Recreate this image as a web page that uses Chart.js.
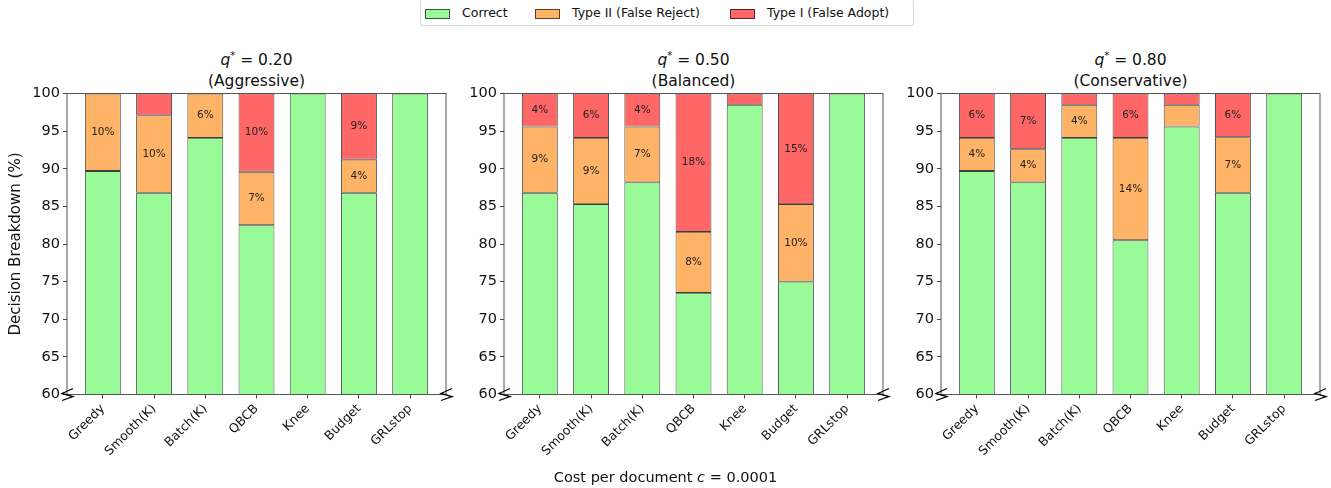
<!DOCTYPE html>
<html lang="en">
<head>
<meta charset="UTF-8">
<title>Decision Breakdown</title>
<script src="https://cdn.jsdelivr.net/npm/chart.js"></script>
<style>
body {
  margin:0;
  width:1331px;
  height:488px;
  background:#fff;
  font-family:"DejaVu Sans", sans-serif;
  color:#111;
  position:relative;
  overflow:hidden;
}
.panel { position:absolute; top:80px; width:460px; height:408px; }
.title { position:absolute; width:379px; text-align:center; font-size:15.5px; line-height:21px; top:50px; }
.title sup { font-size:10px; vertical-align:6px; line-height:0; }
#legend {
  position:absolute; left:420px; top:0px; width:492px; height:25px;
  border:1px solid #d8d8d8; border-radius:3px; border-top:none;
  font-size:12.5px;
}
.sw { position:absolute; top:9px; width:23px; height:8px; border:1px solid rgba(0,0,0,0.65); }
.lt { position:absolute; top:5px; white-space:nowrap; }
#xlabel { position:absolute; left:0; width:1331px; top:469px; text-align:center; font-size:14.5px; }
</style>
</head>
<body>

<div id="legend">
  <div class="sw" style="left:4px;background:#98fb98"></div><div class="lt" style="left:41px">Correct</div>
  <div class="sw" style="left:114px;background:#ffb366"></div><div class="lt" style="left:151px">Type II (False Reject)</div>
  <div class="sw" style="left:309px;background:#ff6666"></div><div class="lt" style="left:346px">Type I (False Adopt)</div>
</div>

<div id="titles"></div>

<div class="panel" style="left:0px"><canvas id="c0"></canvas></div>
<div class="panel" style="left:437px"><canvas id="c1"></canvas></div>
<div class="panel" style="left:874px"><canvas id="c2"></canvas></div>

<div id="xlabel">Cost per document <i>c</i> = 0.0001</div>

<script>
// dane (%)
const categories = ['Greedy', 'Smooth(K)', 'Batch(K)', 'QBCB', 'Knee', 'Budget', 'GRLstop'];
const yTicks = [60, 65, 70, 75, 80, 85, 90, 95, 100];

const qValues = ['0.20', '0.50', '0.80'];
const modes = ['Aggressive', 'Balanced', 'Conservative'];

// q* = 0.20
const correctAgg = [89.7, 86.8, 94.1, 82.5, 100, 86.8, 100];
const typeIIAgg  = [10.3, 10.3, 5.9, 7.1, 0, 4.4, 0];
const typeIAgg   = [0, 2.9, 0, 10.4, 0, 8.8, 0];

// q* = 0.50
const correctBal = [86.8, 85.3, 88.2, 73.5, 98.5, 75.0, 100];
const typeIIBal  = [8.8, 8.8, 7.4, 8.1, 0, 10.3, 0];
const typeIBal   = [4.4, 5.9, 4.4, 18.4, 1.5, 14.7, 0];

// q* = 0.80
const correctCon = [89.7, 88.2, 94.1, 80.5, 95.6, 86.8, 100];
const typeIICon  = [4.4, 4.4, 4.4, 13.6, 2.9, 7.4, 0];
const typeICon   = [5.9, 7.4, 1.5, 5.9, 1.5, 5.8, 0];

const seriesNames = ['Correct', 'Type II (False Reject)', 'Type I (False Adopt)'];
const seriesColors = ['#98fb98', '#ffb366', '#ff6666'];

const panels = [
  [correctAgg, typeIIAgg, typeIAgg],
  [correctBal, typeIIBal, typeIBal],
  [correctCon, typeIICon, typeICon]
];

const plotLeft = [67, 504, 941];

// tytuly nad panelami
const titles = document.getElementById('titles');
qValues.forEach((q, i) => {
  const d = document.createElement('div');
  d.className = 'title';
  d.style.left = plotLeft[i] + 'px';
  d.innerHTML = '<i>q</i><sup>*</sup> = ' + q + '<br>(' + modes[i] + ')';
  titles.appendChild(d);
});

// ramka, znaczniki przerwania osi i etykiety procentow
const framePlugin = {
  id: 'frame',
  afterDraw(chart) {
    const ctx = chart.ctx;
    const a = chart.chartArea;

    ctx.save();
    ctx.font = '10.5px "DejaVu Sans"';
    ctx.fillStyle = '#222';
    ctx.textAlign = 'center';
    ctx.textBaseline = 'middle';
    for (let d = 1; d < chart.data.datasets.length; d++) {
      const ds = chart.data.datasets[d];
      const meta = chart.getDatasetMeta(d);
      ds.data.forEach((p, j) => {
        if (p.y === null || p.y < 3) return;
        const bar = meta.data[j];
        ctx.fillText(Math.round(p.y) + '%', bar.x, (bar.y + bar.base) / 2);
      });
    }

    ctx.strokeStyle = '#555';
    ctx.lineWidth = 1;
    ctx.strokeRect(a.left, a.top, a.right - a.left, a.bottom - a.top);

    ctx.strokeStyle = '#000';
    ctx.lineWidth = 1.3;
    [a.left, a.right].forEach(x => {
      const y = a.bottom;
      ctx.beginPath();
      ctx.moveTo(x + 6, y - 6);
      ctx.lineTo(x - 5, y - 1);
      ctx.lineTo(x + 6, y + 2);
      ctx.lineTo(x - 5, y + 6);
      ctx.stroke();
    });
    ctx.restore();
  }
};

panels.forEach((series, p) => {
  const datasets = series.map((vals, s) => ({
    label: seriesNames[s],
    data: vals.map((v, i) => ({ x: i, y: v === 0 ? null : v })),
    backgroundColor: seriesColors[s],
    borderColor: '#3c3c3c',
    borderWidth: 0.9,
    borderSkipped: false,
    barPercentage: 0.7,
    categoryPercentage: 1.0
  }));

  new Chart(document.getElementById('c' + p), {
    type: 'bar',
    data: { datasets: datasets },
    options: {
      responsive: true,
      maintainAspectRatio: false,
      animation: false,
      layout: { padding: { top: 13.5, right: 14, bottom: 0, left: 0 } },
      plugins: {
        legend: { display: false },
        tooltip: { enabled: false }
      },
      scales: {
        x: {
          type: 'linear',
          stacked: true,
          offset: false,
          min: -0.7,
          max: categories.length - 0.3,
          afterBuildTicks: (scale) => {
            scale.ticks = categories.map((c, i) => ({ value: i }));
          },
          afterFit: (scale) => { scale.height = 93.5; },
          grid: { display: true, offset: false, drawOnChartArea: false, drawTicks: true, tickLength: 4, color: '#444' },
          border: { display: false },
          ticks: {
            autoSkip: false,
            minRotation: 45,
            maxRotation: 45,
            padding: 3,
            color: '#111',
            font: { family: 'DejaVu Sans', size: 12.5 },
            callback: (v) => categories[v]
          }
        },
        y: {
          stacked: true,
          min: yTicks[0],
          max: yTicks[yTicks.length - 1],
          afterFit: (scale) => { scale.width = 67; },
          grid: { display: true, drawOnChartArea: false, drawTicks: true, tickLength: 4, color: '#444' },
          border: { display: false },
          ticks: {
            stepSize: 5,
            padding: 3,
            color: '#111',
            font: { family: 'DejaVu Sans', size: 14.5 }
          },
          title: {
            display: p === 0,
            text: 'Decision Breakdown (%)',
            color: '#111',
            font: { family: 'DejaVu Sans', size: 15 },
            padding: { top: 7.5, bottom: 0 }
          }
        }
      }
    },
    plugins: [framePlugin]
  });
});
</script>

</body>
</html>
